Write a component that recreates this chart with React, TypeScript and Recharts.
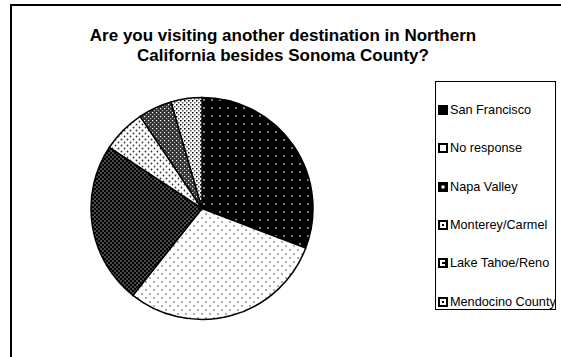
import { PieChart, Pie, Cell, Legend } from "recharts";

const CATEGORIES = [
  "San Francisco",
  "No response",
  "Napa Valley",
  "Monterey/Carmel",
  "Lake Tahoe/Reno",
  "Mendocino County",
];
const SHARES = [30.8, 29.9, 23.6, 6.3, 4.9, 4.5];
const FILL_IDS = ["pSf", "pNo", "pNapa", "pMont", "pTahoe", "pMendo"];

const FONT = "'Liberation Sans', Arial, sans-serif";

const data = CATEGORIES.map((name, i) => ({ name, value: SHARES[i] }));

// small legend swatches, roughly like the Excel markers
const Swatch = ({ index }: { index: number }) => {
  const s = 10;
  return (
    <svg width={s} height={s} style={{ display: "block", flexShrink: 0 }}>
      {index === 0 && <rect x={0} y={0} width={s} height={s} fill="#000" />}
      {index === 1 && (
        <rect x={1} y={1} width={s - 2} height={s - 2} fill="#fff" stroke="#000" strokeWidth={2} />
      )}
      {index === 2 && (
        <>
          <rect x={0} y={0} width={s} height={s} fill="#000" />
          <rect x={3.5} y={3.5} width={3} height={3} fill="#fff" />
        </>
      )}
      {(index === 3 || index === 5) && (
        <>
          <rect x={0} y={0} width={s} height={s} fill="#000" />
          <rect x={2} y={2} width={6} height={6} fill="#fff" />
          <rect x={4} y={4} width={2} height={2} fill="#000" />
        </>
      )}
      {index === 4 && (
        <>
          <rect x={0} y={0} width={s} height={s} fill="#000" />
          <rect x={2} y={2} width={5} height={6} fill="#fff" />
          <rect x={4} y={4} width={3} height={2} fill="#000" />
        </>
      )}
    </svg>
  );
};

const LegendBox = () => (
  <div
    style={{
      width: 121,
      height: 229,
      border: "1px solid #000",
      boxSizing: "border-box",
      background: "#fff",
      paddingTop: 14,
      fontFamily: FONT,
      fontSize: 12.7,
      color: "#000",
    }}
  >
    {CATEGORIES.map((name, i) => (
      <div
        key={name}
        style={{
          display: "flex",
          alignItems: "center",
          height: 38.3,
          marginTop: i === 0 ? -5 : 0,
          paddingLeft: 2,
          whiteSpace: "nowrap",
        }}
      >
        <Swatch index={i} />
        <span style={{ marginLeft: 2 }}>{name}</span>
      </div>
    ))}
  </div>
);

export default function App() {
  return (
    <div
      style={{
        position: "absolute",
        left: 0,
        top: 0,
        width: 561,
        height: 357,
        overflow: "hidden",
        background: "#fff",
      }}
    >
      {/* outer frame, runs off the right and bottom */}
      <div
        style={{
          position: "absolute",
          left: 10,
          top: 4,
          width: 640,
          height: 420,
          border: "2px solid #000",
        }}
      />
      <div
        style={{
          position: "absolute",
          left: 0,
          top: 26,
          width: 566,
          textAlign: "center",
          fontFamily: FONT,
          fontWeight: "bold",
          fontSize: 17,
          lineHeight: "20px",
          color: "#000",
        }}
      >
        Are you visiting another destination in Northern
        <br />
        California besides Sonoma County?
      </div>
      <div style={{ position: "absolute", left: 0, top: 0 }}>
        <PieChart width={561} height={357} margin={{ top: 0, right: 0, bottom: 0, left: 0 }}>
          <defs>
            <pattern id="pSf" width={8} height={8} patternUnits="userSpaceOnUse">
              <rect width={8} height={8} fill="#000" />
              <circle cx={4} cy={4} r={0.9} fill="#bbb" />
            </pattern>
            <pattern id="pNo" width={8} height={8} patternUnits="userSpaceOnUse">
              <rect width={8} height={8} fill="#fff" />
              <circle cx={2} cy={2} r={0.8} fill="#444" />
              <circle cx={6} cy={6} r={0.8} fill="#444" />
            </pattern>
            <pattern id="pNapa" width={4} height={4} patternUnits="userSpaceOnUse">
              <rect width={4} height={4} fill="#000" />
              <circle cx={1} cy={1} r={0.7} fill="#ccc" />
              <circle cx={3} cy={3} r={0.7} fill="#ccc" />
            </pattern>
            <pattern id="pMont" width={6} height={6} patternUnits="userSpaceOnUse">
              <rect width={6} height={6} fill="#fff" />
              <circle cx={1.5} cy={1.5} r={0.9} fill="#333" />
              <circle cx={4.5} cy={4.5} r={0.9} fill="#333" />
            </pattern>
            <pattern id="pTahoe" width={4} height={4} patternUnits="userSpaceOnUse">
              <rect width={4} height={4} fill="#333" />
              <rect x={0} y={0} width={1.2} height={1.2} fill="#fff" />
              <rect x={2} y={2} width={1.2} height={1.2} fill="#aaa" />
            </pattern>
            <pattern id="pMendo" width={4} height={4} patternUnits="userSpaceOnUse">
              <rect width={4} height={4} fill="#fff" />
              <rect x={0} y={0} width={1.5} height={1.5} fill="#000" />
              <rect x={2} y={2} width={1.5} height={1.5} fill="#555" />
            </pattern>
          </defs>
          <Pie
            data={data}
            dataKey="value"
            nameKey="name"
            cx={202}
            cy={208.5}
            outerRadius={111}
            startAngle={90}
            endAngle={-270}
            stroke="#000"
            strokeWidth={1.5}
            isAnimationActive={false}
            label={false}
            labelLine={false}
          >
            {data.map((d, i) => (
              <Cell key={d.name} fill={`url(#${FILL_IDS[i]})`} />
            ))}
          </Pie>
          <Legend
            layout="vertical"
            align="right"
            verticalAlign="top"
            content={() => <LegendBox />}
            wrapperStyle={{ left: 435, top: 81, right: "auto", width: 121 }}
          />
        </PieChart>
      </div>
    </div>
  );
}
